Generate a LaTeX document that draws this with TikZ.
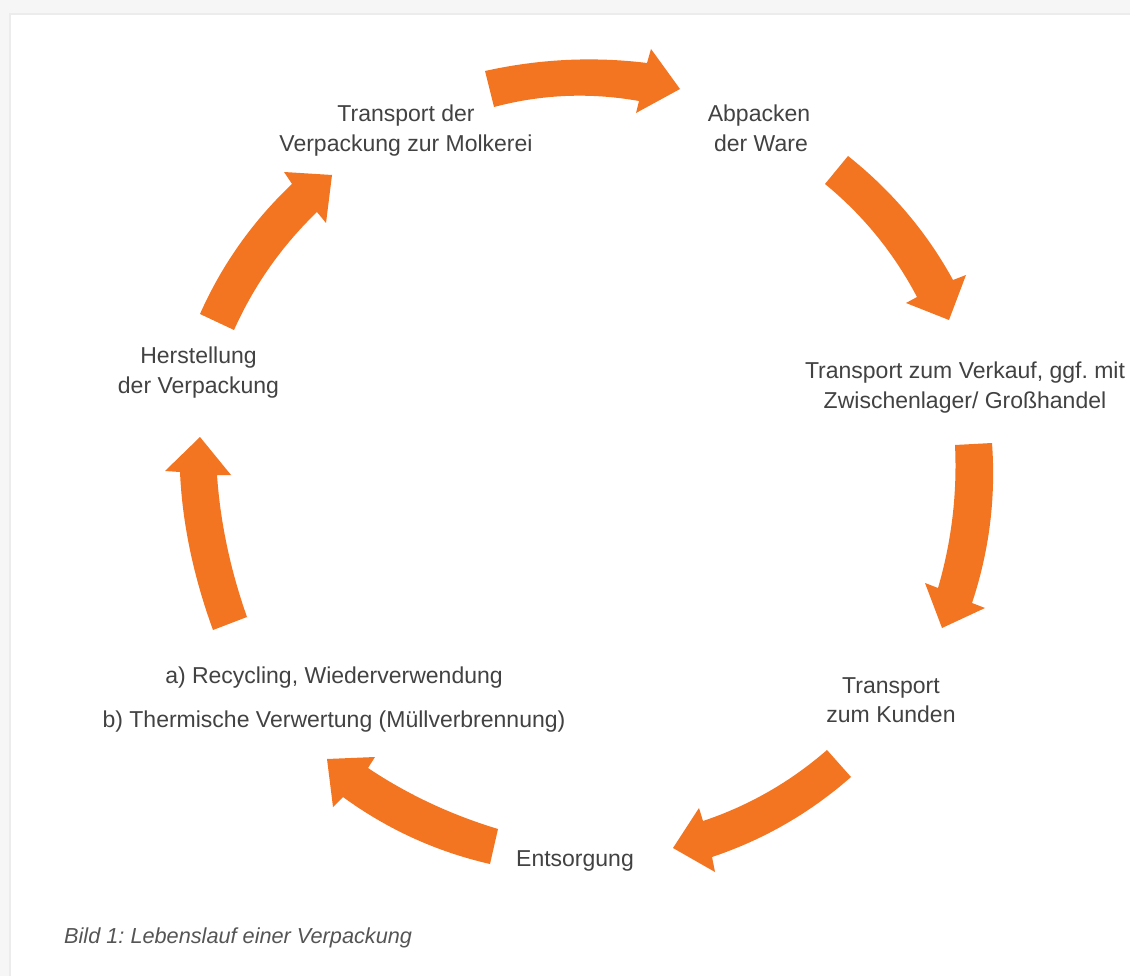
\documentclass[tikz,border=0pt]{standalone}
\usepackage{fontspec}
\setmainfont{Liberation Sans}
\definecolor{arroworange}{RGB}{244,117,33}
\definecolor{txtgray}{RGB}{66,66,66}
\definecolor{capgray}{RGB}{85,85,85}
\definecolor{bggray}{RGB}{246,246,246}
\definecolor{shadowgray}{RGB}{236,236,236}
\tikzset{
  lbl/.style={text=txtgray, font=\fontsize{23}{30}\selectfont, inner sep=0pt, anchor=base},
  caplbl/.style={text=capgray, font=\fontsize{21.7}{26}\selectfont\itshape, inner sep=0pt, anchor=base west},
  bigarrow/.style={fill=arroworange, draw=none}
}
\frenchspacing
\begin{document}
\begin{tikzpicture}[x=1pt,y=-1pt]
\useasboundingbox (0,0) rectangle (1130,976);
% background and card
\fill[bggray] (0,0) rectangle (1130,976);
\fill[shadowgray] (9,13) rectangle (1130,976);
\fill[white] (11,15) rectangle (1130,976);

% arrows
\fill[bigarrow] (485,71) .. controls (539,59) and (593,56.3) .. (647,63) -- (651,49) -- (680,89)
  -- (636,113) -- (639,101) .. controls (590,92.3) and (541.7,94.3) .. (494,107) -- cycle;
\fill[bigarrow] (848,156) .. controls (891.7,190.7) and (926.7,232) .. (953,280) -- (966,275) -- (949,320)
  -- (906,303) -- (917,297) .. controls (893.9,253.1) and (863.3,215.4) .. (825,184) -- cycle;
\fill[bigarrow] (955,445) -- (992,443) .. controls (996,497.7) and (989.3,551) .. (972,603) -- (985,608)
  -- (942,628) -- (925,583) -- (938,588) .. controls (951.7,541) and (957.3,493.3) .. (955,445) -- cycle;
\fill[bigarrow] (827,750) -- (851,777) .. controls (810,813) and (763.7,839.7) .. (712,857) -- (715,872)
  -- (673,848) -- (699,808) -- (703,821) .. controls (749,805.6) and (790.3,781.9) .. (827,750) -- cycle;
\fill[bigarrow] (498,829) -- (490,864) .. controls (436.3,851.7) and (387.3,829.3) .. (343,797) -- (333,807)
  -- (327,759) -- (375,757) -- (368,768) .. controls (407.3,794.3) and (450.7,814.7) .. (498,829) -- cycle;
\fill[bigarrow] (213,630) -- (247,617) .. controls (230.3,569.7) and (220.3,522.3) .. (217,475) -- (231,475)
  -- (200,437) -- (165,471) -- (180,472) .. controls (182.3,523.3) and (193.3,576) .. (213,630) -- cycle;
\fill[bigarrow] (200,314) .. controls (222,264.5) and (252.7,221.2) .. (292,184) -- (284,172) -- (332,175)
  -- (326,223) -- (317,212) .. controls (281.7,246) and (254.1,285.3) .. (234,330) -- cycle;

% labels
\node[lbl] (molk1) at (406,122) {Transport der};
\node[lbl] (molk2) at (406,152) {Verpackung zur Molkerei};
\node[lbl] (abp1) at (759,122) {Abpacken};
\node[lbl] (abp2) at (761,152) {der Ware};
\node[lbl] (verk1) at (965,378) {Transport zum Verkauf, ggf. mit};
\node[lbl] (verk2) at (965,408) {Zwischenlager/ Großhandel};
\node[lbl] (kund1) at (891,693) {Transport};
\node[lbl] (kund2) at (891,722) {zum Kunden};
\node[lbl] (ents) at (575,866) {Entsorgung};
\node[lbl] (recy1) at (334,683) {a) Recycling, Wiederverwendung};
\node[lbl] (recy2) at (334,727) {b) Thermische Verwertung (Müllverbrennung)};
\node[lbl] (herst1) at (198.5,363) {Herstellung};
\node[lbl] (herst2) at (198.5,393) {der Verpackung};
\node[caplbl] (caption) at (64,943) {Bild 1: Lebenslauf einer Verpackung};
\end{tikzpicture}
\end{document}
